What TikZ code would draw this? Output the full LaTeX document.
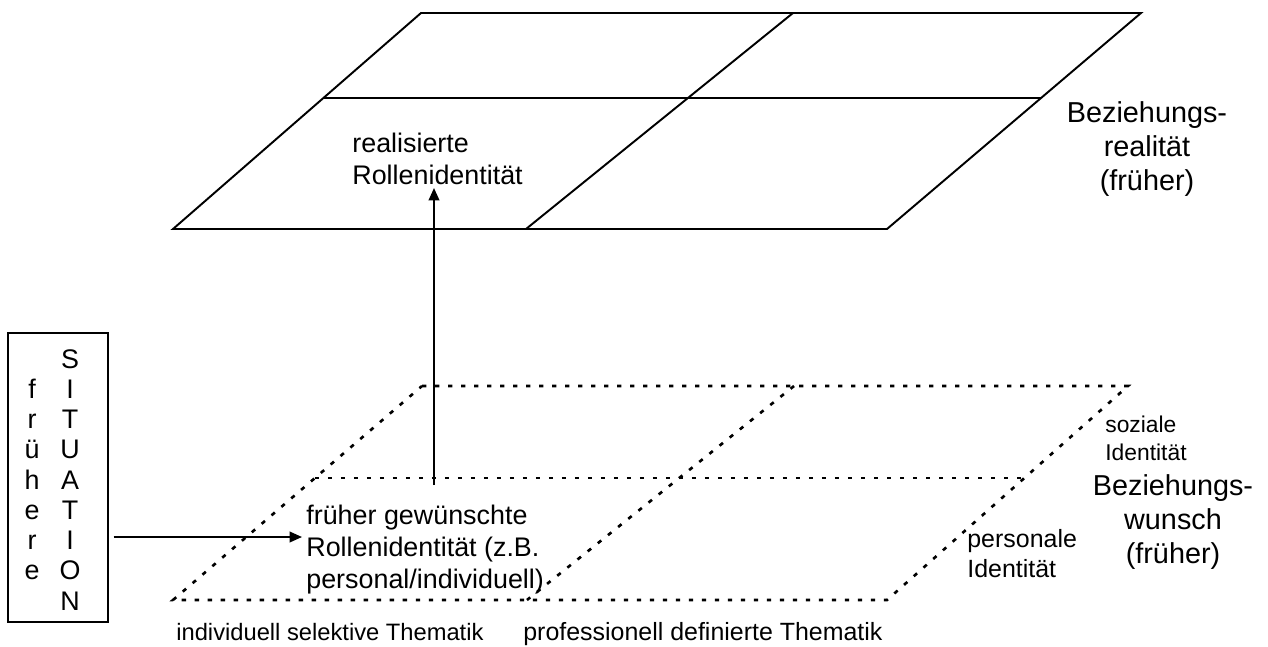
\documentclass[tikz,border=0pt]{standalone}
\usepackage{fontspec}
\setmainfont{Liberation Sans}
\usetikzlibrary{calc,arrows.meta}

\newcommand{\smalltxt}{\fontsize{13}{15.9}\selectfont}
\newcommand{\midtxt}{\fontsize{15.3}{18.1}\selectfont}
\newcommand{\bigtxt}{\fontsize{16.4}{19.3}\selectfont}

\begin{document}
\begin{tikzpicture}[x=0.02cm,y=-0.02cm,>={Triangle[length=7pt,width=6pt]},
  plane/.style={line width=1.1pt},
  wish/.style={line width=1.5pt,dash pattern=on 2.5pt off 4.9pt},
  conn/.style={line width=1.1pt,->},
  lbl/.style={inner sep=0pt,anchor=base west,align=left},
  title/.style={inner sep=0pt,anchor=base,align=center,font=\bigtxt}]

\useasboundingbox (0,0) rectangle (1268,646);

% A plane cut into four fields: corners #1a..#1d, divider #1e--#1f, style #2, height of the middle line #3
\newcommand{\drawplane}[3]{%
	\draw[#2] (#1a) -- (#1b) -- (#1c) -- (#1d) -- cycle;
	\draw[#2] ($(#1a)!#3!(#1d)$) -- ($(#1b)!#3!(#1c)$);
	\draw[#2] (#1e) -- (#1f);
}

% Beziehungsrealitaet (top)
\coordinate (Ra) at (421,13);
\coordinate (Rb) at (1141,13);
\coordinate (Rc) at (887,229);
\coordinate (Rd) at (173,229);
\coordinate (Re) at (793,13);
\coordinate (Rf) at (526,229);
\drawplane{R}{plane}{0.394}

% Beziehungswunsch (bottom)
\coordinate (Wa) at (422,386);
\coordinate (Wb) at (1128,386);
\coordinate (Wc) at (887,600);
\coordinate (Wd) at (173,600);
\coordinate (We) at (794,386);
\coordinate (Wf) at (527,600);
\drawplane{W}{wish}{0.43}

% Labels (placed at the baseline of their last line)
\node[lbl,font=\midtxt] (real) at (352,184) {realisierte\\Rollenidentität};
\node[title] (realtitle) at (1147,190) {Beziehungs-\\realität\\(früher)};
\node[lbl,font=\midtxt] (wishtext) at (306,588) {früher gewünschte\\Rollenidentität (z.B.\\personal/individuell)};
\node[lbl,font=\smalltxt] (social) at (1105,460) {soziale\\Identität};
\node[title] (wishtitle) at (1173,563) {Beziehungs-\\wunsch\\(früher)};
\node[lbl,font=\fontsize{14.2}{17}\selectfont] (personal) at (967,577) {personale\\Identität};
\node[lbl,font=\fontsize{13.5}{16}\selectfont] (indiv) at (176,640) {individuell selektive Thematik};
\node[lbl,font=\fontsize{14.2}{17}\selectfont] (prof) at (523,640) {professionell definierte Thematik};

% The box on the left
\node[draw,line width=0.8pt,inner sep=0pt,minimum width=2cm,minimum height=5.78cm] (situation) at (58,477.5) {};
\foreach \ch [count=\i from 0] in {S,I,T,U,A,T,I,O,N}
	\node[font=\midtxt,inner sep=0pt,anchor=base] (sit\i) at (70,{368+30.25*\i}) {\ch};
\foreach \ch [count=\i from 1] in {f,r,ü,h,e,r,e}
	\node[font=\midtxt,inner sep=0pt,anchor=base] (fr\i) at (32,{368+30.25*\i}) {\ch};

% Arrows
\coordinate (wishfoot) at (434,485);
\coordinate (realtip) at (434,188);
\draw[conn] (wishfoot) -- (realtip);
\coordinate (wishtip) at (302,537);
\draw[conn,shorten <=2.8pt] (situation.east |- wishtip) -- (wishtip);
\end{tikzpicture}
\end{document}
